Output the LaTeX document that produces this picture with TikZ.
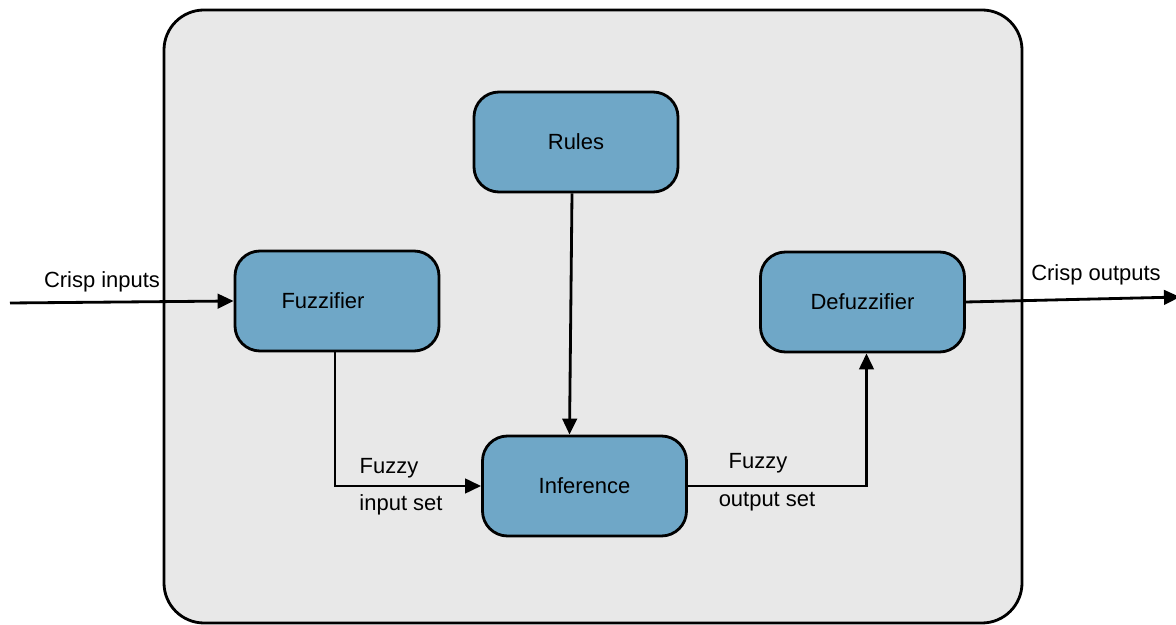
\documentclass[tikz,border=0pt]{standalone}
\usepackage{fontspec}
\setmainfont{Liberation Sans}
\usepackage{xcolor}
\usepackage{tikz}
\usetikzlibrary{arrows.meta}
\definecolor{cpanel}{HTML}{E8E8E8}
\definecolor{cblock}{HTML}{6FA7C7}
\tikzset{>={Triangle[length=3.2mm,width=2.9mm]},
  blk/.style={draw,line width=1.6pt,fill=cblock,rounded corners=0.5cm,minimum width=4.08cm,minimum height=2cm},
  lnk/.style={->,line width=1.6pt},
  lbl/.style={font=\fontsize{12.5}{15}\selectfont}}

\begin{document}
\begin{tikzpicture}[font=\fontsize{12.5}{15}\selectfont]
\useasboundingbox (0,0) rectangle (23.52,12.5);

% ===== panel =====
\draw[line width=1.6pt,fill=cpanel,rounded corners=0.8cm] (3.28,0.04) rectangle (20.44,12.3);

% ===== blocks =====
\node[blk] (rules) at (11.52,9.66) {Rules};
\node[blk] (fuz) at (6.74,6.48) {\hspace*{-0.56cm}Fuzzifier};
\node[blk] (defuz) at (17.25,6.46) {Defuzzifier};
\node[blk] (inf) at (11.69,2.78) {Inference};

% ===== free ends =====
\coordinate (cin) at (0.2,6.44);
\coordinate (cout) at (23.6,6.56);

% ===== links =====
\draw[lnk] (cin) -- (fuz.west);
\draw[lnk] (defuz.east) -- (cout);
\draw[lnk] ([xshift=-0.08cm]rules.south) -- ([xshift=-0.3cm]inf.north);
\draw[lnk] ([xshift=-0.04cm]fuz.south) |- (inf.west);
\draw[lnk] (inf.east) -| ([xshift=0.08cm]defuz.south);

% ===== labels =====
\node[lbl] (lcin) at (2.04,6.86) {Crisp inputs};
\node[lbl] (lcout) at (21.92,7.0) {Crisp outputs};
\node[lbl] (lfi1) at (7.78,3.14) {Fuzzy};
\node[lbl] (lfi2) at (8.02,2.4) {input set};
\node[lbl] (lfo1) at (15.16,3.24) {Fuzzy};
\node[lbl] (lfo2) at (15.34,2.46) {output set};

\end{tikzpicture}
\end{document}
